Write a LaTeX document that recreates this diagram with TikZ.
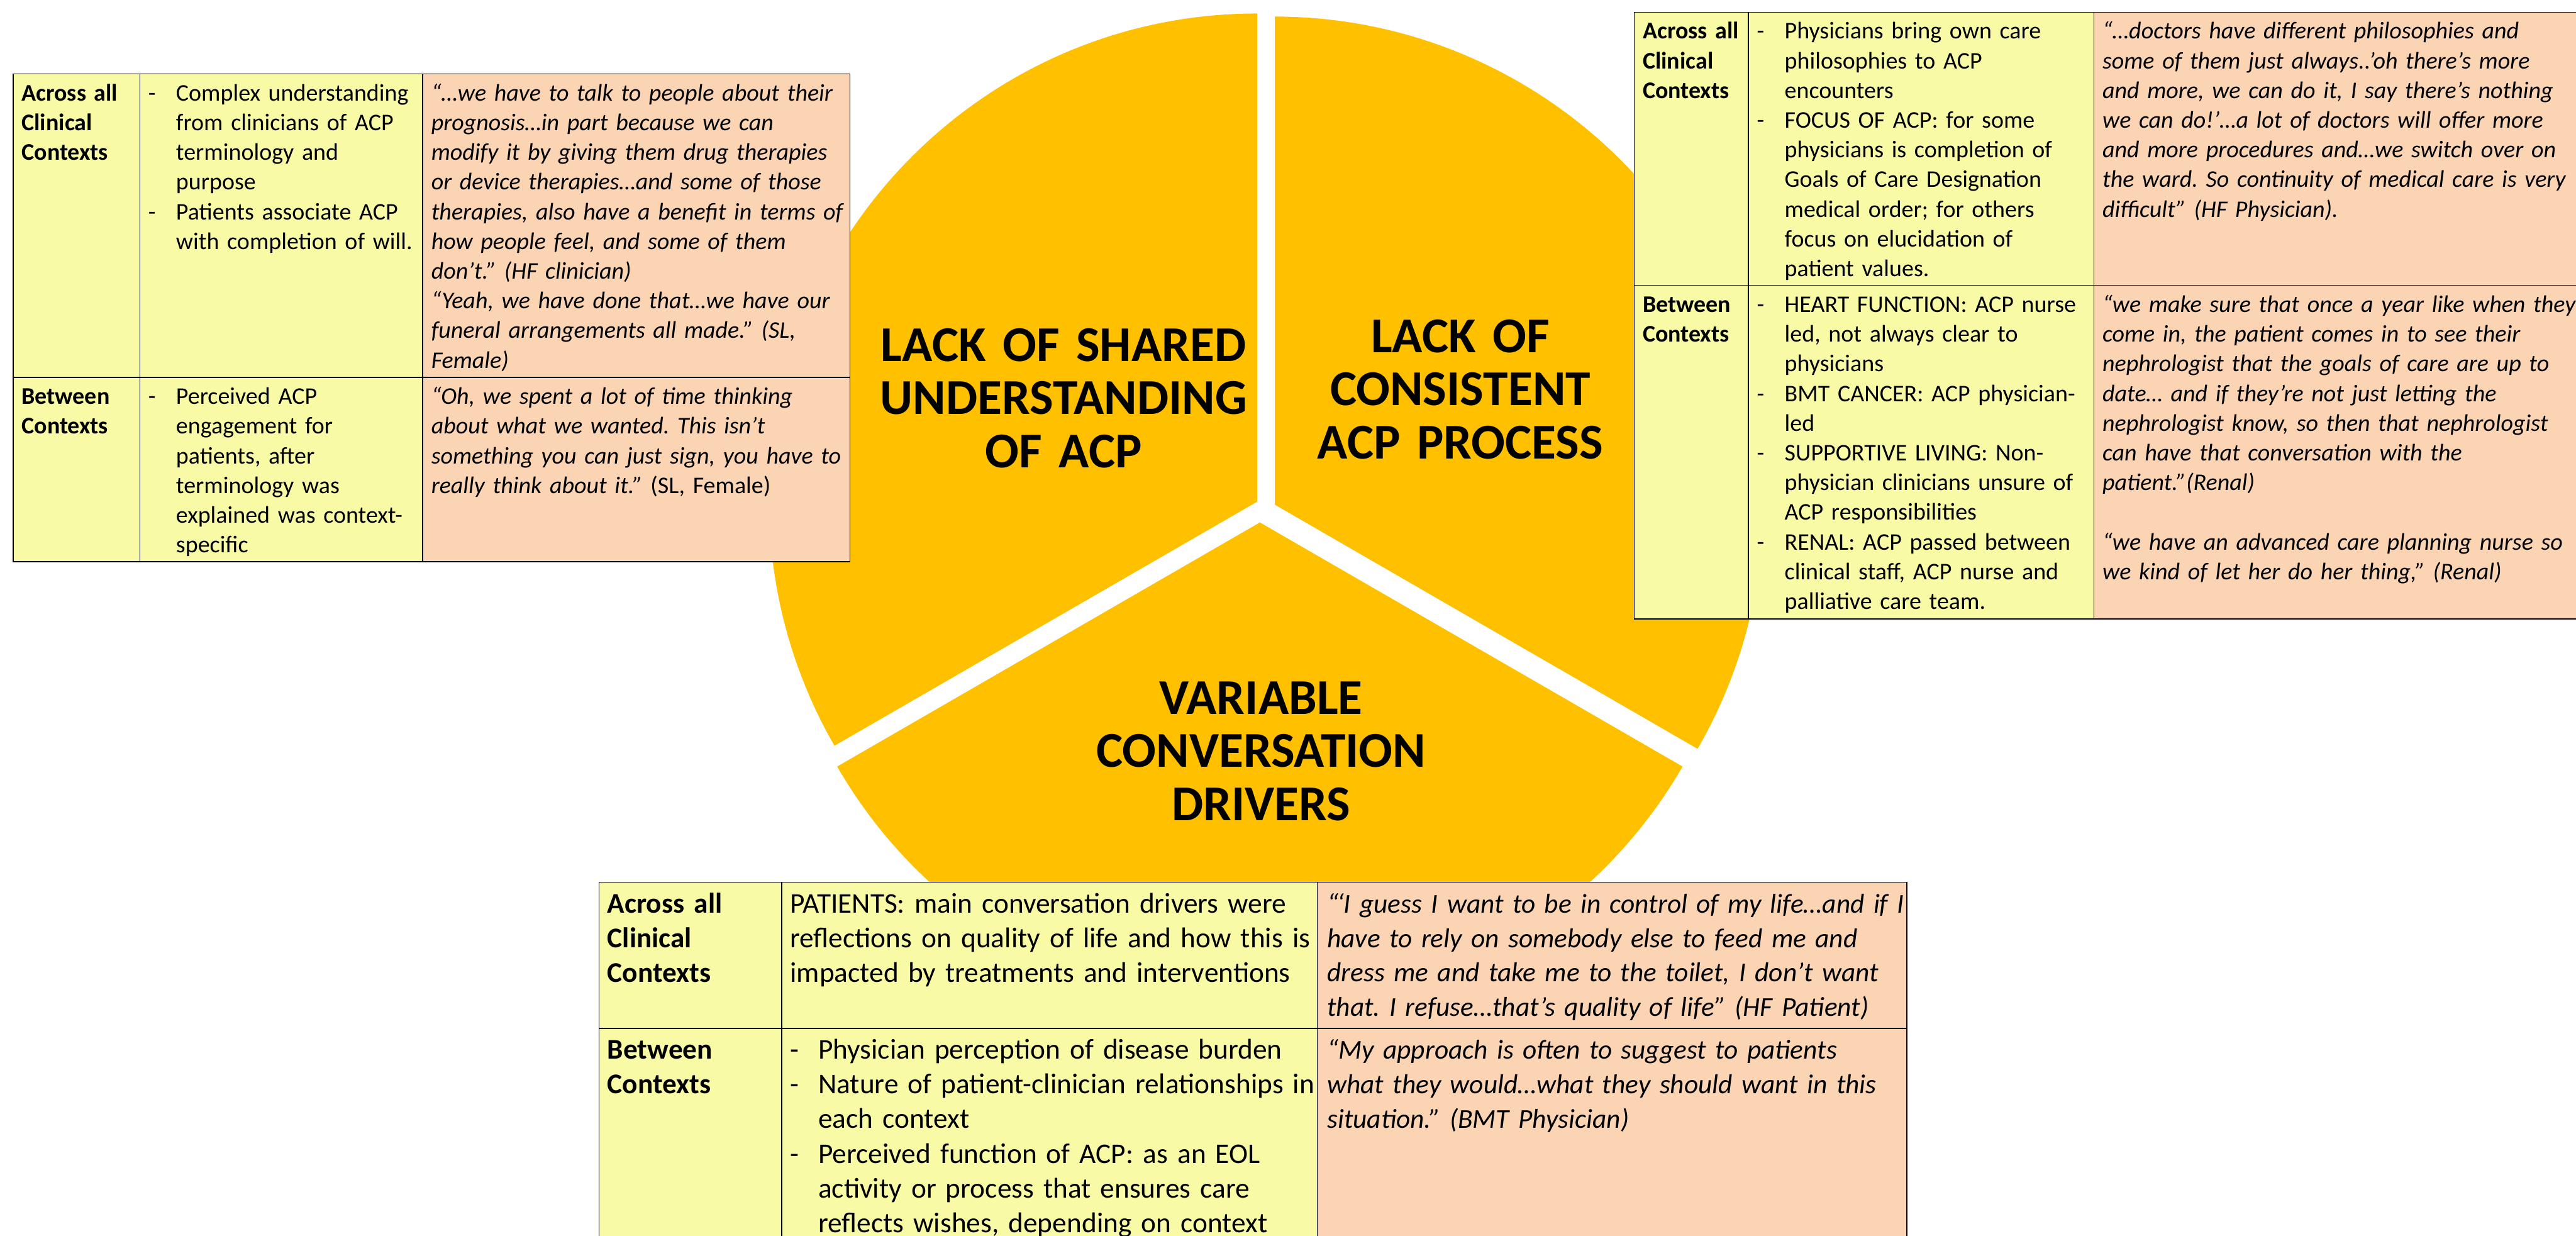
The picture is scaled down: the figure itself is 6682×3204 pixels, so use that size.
\documentclass[tikz,border=0pt]{standalone}
\usepackage{fontspec}
\setmainfont{Carlito}
\usepackage{xcolor}
\usepackage{tikz}
\frenchspacing

\definecolor{piegold}{RGB}{255,192,0}
\definecolor{rowyellow}{RGB}{249,250,165}
\definecolor{quotepeach}{RGB}{251,212,180}

% type sizes: side tables, bottom table, pie labels
\newcommand{\topsize}{\fontsize{6.2mm}{7.7mm}\selectfont}
\newcommand{\lowsize}{\fontsize{7.4mm}{8.98mm}\selectfont}
\newcommand{\lowquote}{\fontsize{7.07mm}{8.9mm}\selectfont}
\newcommand{\piesize}{\fontsize{13mm}{13.8mm}\selectfont}
\newcommand{\tabsize}{\topsize}
\newcommand{\quotesize}{\topsize}
% dash entry with hanging indent
\newlength{\dashgap}
\setlength{\dashgap}{7.2mm}
\newcommand{\dashitem}[1]{{\hangindent=\dashgap\hangafter=1\noindent\makebox[\dashgap][l]{-}\let\\\newline#1\par}}

\begin{document}
\begin{tikzpicture}[
  x=0.1mm, y=0.1mm,
  grid/.style={draw=black, line width=0.22mm},
  across/.style={grid, fill=rowyellow},
  quote/.style={grid, fill=quotepeach},
  slice/.style={fill=piegold},
  theme/.style={anchor=base, inner sep=0pt, align=center, text width=130mm, font=\piesize\bfseries},
  cell/.style={anchor=base west, inner sep=0pt, align=left, text width=#1, font=\tabsize},
  head/.style={cell=#1, font=\tabsize\bfseries},
  said/.style={cell=#1, font=\quotesize\itshape}
]
\useasboundingbox (0,0) rectangle (6682,-3204);
\clip (0,0) rectangle (6682,-3204);
\fill[white] (0,0) rectangle (6682,-3204);

% exploded pie, three slices
\fill[slice] (3261,-1301) -- ++(90:1266) arc[start angle=90, end angle=210, radius=1266] -- cycle;
\fill[slice] (3307,-1309) -- ++(-30:1266) arc[start angle=-30, end angle=90, radius=1266] -- cycle;
\fill[slice] (3268,-1355) -- ++(210:1266) arc[start angle=210, end angle=330, radius=1266] -- cycle;

\node[theme] (shared) at (2759,-937) {LACK OF SHARED\\UNDERSTANDING\\OF ACP};
\node[theme] (process) at (3788,-914) {LACK OF\\CONSISTENT\\ACP PROCESS};
\node[theme] (drivers) at (3271,-1852) {VARIABLE\\CONVERSATION\\DRIVERS};

% left table
\path[across] (34,-192) rectangle (363,-979);
\path[across] (363,-192) rectangle (1096,-979);
\path[quote] (1096,-192) rectangle (2205,-979);
\path[across] (34,-979) rectangle (363,-1457);
\path[across] (363,-979) rectangle (1096,-1457);
\path[quote] (1096,-979) rectangle (2205,-1457);

\node[head=40mm] (l-across) at (55.5,-261.5) {Across all\\Clinical\\Contexts};
\node[cell=100mm] (l-across-pts) at (384,-261.5) {\dashitem{Complex understanding\\from clinicians of ACP\\terminology and\\purpose}\dashitem{Patients associate ACP\\with completion of will.}};
\node[said=150mm] (l-across-said) at (1118,-261.5) {“…we have to talk to people about their\\prognosis…in part because we can\\modify it by giving them drug therapies\\or device therapies…and some of those\\therapies, also have a benefit in terms of\\how people feel, and some of them\\don’t.” (HF clinician)\\“Yeah, we have done that…we have our\\funeral arrangements all made.” (SL,\\Female)};
\node[head=40mm] (l-between) at (55.5,-1048.5) {Between\\Contexts};
\node[cell=100mm] (l-between-pts) at (384,-1048.5) {\dashitem{Perceived ACP\\engagement for\\patients, after\\terminology was\\explained was context-\\specific}};
\node[said=150mm] (l-between-said) at (1118,-1048.5) {“Oh, we spent a lot of time thinking\\about what we wanted. This isn’t\\something you can just sign, you have to\\really think about it.”\textup{ (SL, Female)}};

% right table
\path[across] (4239,-31.5) rectangle (4535,-740);
\path[across] (4535,-31.5) rectangle (5431,-740);
\path[quote] (5431,-31.5) rectangle (6684,-740);
\path[across] (4239,-740) rectangle (4535,-1605);
\path[across] (4535,-740) rectangle (5431,-1605);
\path[quote] (5431,-740) rectangle (6684,-1605);

\node[head=40mm] (r-across) at (4260.5,-101) {Across all\\Clinical\\Contexts};
\node[cell=120mm] (r-across-pts) at (4556.5,-101) {\dashitem{Physicians bring own care\\philosophies to ACP\\encounters}\dashitem{FOCUS OF ACP: for some\\physicians is completion of\\Goals of Care Designation\\medical order; for others\\focus on elucidation of\\patient values.}};
\node[said=160mm] (r-across-said) at (5453,-101) {“…doctors have different philosophies and\\some of them just always..’oh there’s more\\and more, we can do it, I say there’s nothing\\we can do!’…a lot of doctors will offer more\\and more procedures and…we switch over on\\the ward. So continuity of medical care is very\\difficult” (HF Physician).};
\node[head=40mm] (r-between) at (4260.5,-810) {Between\\Contexts};
\node[cell=120mm] (r-between-pts) at (4556.5,-810) {\dashitem{HEART FUNCTION: ACP nurse\\led, not always clear to\\physicians}\dashitem{BMT CANCER: ACP physician-\\led}\dashitem{SUPPORTIVE LIVING: Non-\\physician clinicians unsure of\\ACP responsibilities}\dashitem{RENAL: ACP passed between\\clinical staff, ACP nurse and\\palliative care team.}};
\node[said=160mm] (r-between-said) at (5453,-810) {“we make sure that once a year like when they\\come in, the patient comes in to see their\\nephrologist that the goals of care are up to\\date… and if they’re not just letting the\\nephrologist know, so then that nephrologist\\can have that conversation with the\\patient.”(Renal)\\[7.7mm]“we have an advanced care planning nurse so\\we kind of let her do her thing,” (Renal)};

% bottom table, runs off the page
\let\tabsize\lowsize
\let\quotesize\lowquote
\setlength{\dashgap}{7.3mm}
\path[across] (1553.5,-2288) rectangle (2027.5,-2667);
\path[across] (2027.5,-2288) rectangle (3417,-2667);
\path[quote] (3417,-2288) rectangle (4946,-2667);
\path[across] (1553.5,-2667) rectangle (2027.5,-3300);
\path[across] (2027.5,-2667) rectangle (3417,-3300);
\path[quote] (3417,-2667) rectangle (4946,-3300);

\node[head=60mm] (b-across) at (1575,-2368.5) {Across all\\Clinical\\Contexts};
\node[cell=180mm] (b-across-pts) at (2049,-2368.5) {PATIENTS: main conversation drivers were\\reflections on quality of life and how this is\\impacted by treatments and interventions};
\node[said=200mm] (b-across-said) at (3442,-2368.5) {“\kern-0.4mm‘I guess I want to be in control of my life…and if I\\have to rely on somebody else to feed me and\\dress me and take me to the toilet, I don’t want\\that. I refuse…that’s quality of life” (HF Patient)};
\node[head=60mm] (b-between) at (1575,-2747) {Between\\Contexts};
\node[cell=180mm] (b-between-pts) at (2049,-2747) {\dashitem{Physician perception of disease burden}\dashitem{Nature of patient-clinician relationships in\\each context}\dashitem{Perceived function of ACP: as an EOL\\activity or process that ensures care\\reflects wishes, depending on context}};
\node[said=200mm] (b-between-said) at (3442,-2747) {“My approach is often to suggest to patients\\what they would…what they should want in this\\situation.” (BMT Physician)};
\end{tikzpicture}
\end{document}
